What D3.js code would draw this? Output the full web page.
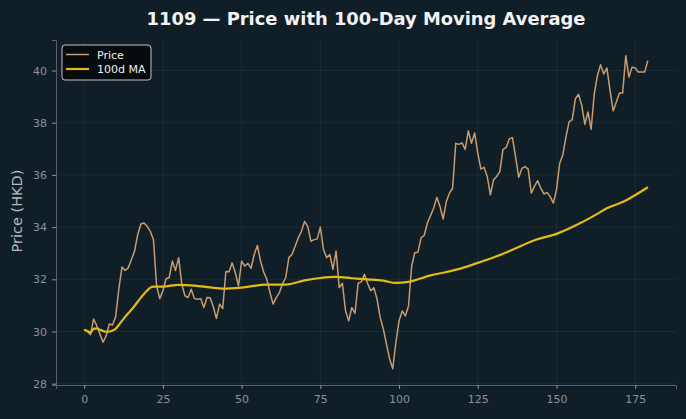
<!DOCTYPE html>
<meta charset="utf-8">
<style>
body { margin: 0; background: #101f27; }
svg { display: block; font-family: "DejaVu Sans", sans-serif; }
.tick text { fill: #8c9196; font-size: 11px; }
.tick line { stroke: #8c9196; }
.domain { stroke: #5a5f63; }
.grid line { stroke: #ffffff; stroke-opacity: 0.05; }
</style>
<body>
<script src="https://cdn.jsdelivr.net/npm/d3@7"></script>
<script>

var title = "1109 \u2014 Price with 100-Day Moving Average";
var yLabel = "Price (HKD)";
var xTicks = [0, 25, 50, 75, 100, 125, 150, 175];
var yTicks = [28, 30, 32, 34, 36, 38, 40];

// daily close, day 0..179
var price = [
  30.07, 30.0, 29.88, 30.48, 30.22, 29.9, 29.59, 29.84, 30.29, 30.25,
  30.57, 31.62, 32.47, 32.34, 32.44, 32.76, 33.08, 33.71, 34.12, 34.16,
  34.03, 33.84, 33.52, 31.75, 31.26, 31.56, 32.02, 32.06, 32.7, 32.34,
  32.83, 31.81, 31.37, 31.3, 31.62, 31.26, 31.24, 31.26, 30.92, 31.3,
  31.29, 30.95, 30.5, 31.05, 30.88, 32.3, 32.29, 32.63, 32.25, 31.75,
  32.7, 32.51, 32.61, 32.42, 32.95, 33.3, 32.7, 32.28, 32.0, 31.49,
  31.05, 31.3, 31.49, 31.83, 32.06, 32.83, 32.95, 33.27, 33.59, 33.84,
  34.22, 34.03, 33.46, 33.52, 33.55, 34.0, 33.14, 32.83, 32.95, 32.38,
  33.08, 31.68, 31.85, 30.79, 30.41, 30.92, 30.69, 31.85, 31.9, 32.19,
  31.85, 31.56, 31.68, 31.24, 30.54, 30.1, 29.52, 28.95, 28.57, 29.59,
  30.41, 30.79, 30.6, 30.98, 32.51, 33.02, 33.04, 33.59, 33.69, 34.16,
  34.44, 34.73, 35.14, 34.79, 34.31, 34.98, 35.3, 35.49, 37.21, 37.17,
  37.23, 36.98, 37.69, 37.21, 37.61, 36.83, 36.22, 36.29, 35.94, 35.24,
  35.81, 35.94, 36.13, 36.98, 37.05, 37.38, 37.43, 36.7, 35.91, 36.25,
  36.32, 36.22, 35.3, 35.56, 35.78, 35.49, 35.27, 35.33, 35.17, 34.92,
  35.43, 36.44, 36.76, 37.46, 38.03, 38.12, 38.92, 39.09, 38.67, 37.94,
  38.41, 37.75, 39.11, 39.81, 40.22, 39.87, 40.1, 39.24, 38.45, 38.79,
  39.14, 39.14, 40.57, 39.75, 40.13, 40.1, 39.94, 39.94, 39.94, 40.38
];

// 100-day moving average, read at these days
var maDays = [0, 1, 2, 3, 4, 5, 6, 7, 8, 9, 10, 11, 12, 13, 14, 15, 16, 17, 18, 19,
  20, 21, 22, 25, 30, 35, 40, 44, 50, 58, 64, 70, 75, 80, 85, 90, 95, 99, 103,
  110, 115, 120, 125, 131, 136, 143, 150, 156, 162, 166, 171, 179];
var maValues = [30.07, 30.02, 29.97, 30.1, 30.12, 30.07, 30.02, 29.99, 30.0, 30.04,
  30.1, 30.25, 30.41, 30.56, 30.7, 30.83, 30.98, 31.14, 31.3, 31.44,
  31.57, 31.68, 31.72, 31.72, 31.79, 31.76, 31.69, 31.64, 31.68, 31.8, 31.8,
  31.96, 32.05, 32.09, 32.04, 32.0, 31.95, 31.86, 31.9, 32.15, 32.28, 32.43,
  32.63, 32.88, 33.13, 33.5, 33.74, 34.06, 34.44, 34.72, 34.96, 35.53];

var width = 686, height = 419;
var margin = {left: 56, right: 10, top: 40, bottom: 34};

var svg = d3.select("body").append("svg")
    .attr("width", width)
    .attr("height", height);

svg.append("rect").attr("width", width).attr("height", height).attr("fill", "#101f27");

var x = d3.scaleLinear()
    .domain([-8.95, 187.95])
    .range([margin.left, width - margin.right]);

var y = d3.scaleLinear()
    .domain([27.95, 41.17])
    .range([height - margin.bottom, margin.top]);

// grid
svg.append("g").attr("class", "grid")
  .selectAll("line").data(xTicks).enter().append("line")
    .attr("x1", function(d) { return x(d); }).attr("x2", function(d) { return x(d); })
    .attr("y1", margin.top).attr("y2", height - margin.bottom);
svg.append("g").attr("class", "grid")
  .selectAll("line").data(yTicks).enter().append("line")
    .attr("y1", function(d) { return y(d); }).attr("y2", function(d) { return y(d); })
    .attr("x1", margin.left).attr("x2", width - margin.right);

// axes
var xAxis = svg.append("g")
    .attr("transform", "translate(0," + (height - margin.bottom) + ")")
    .call(d3.axisBottom(x).tickValues(xTicks).tickSizeOuter(0).tickSize(4).tickPadding(6));
var yAxis = svg.append("g")
    .attr("transform", "translate(" + margin.left + ",0)")
    .call(d3.axisLeft(y).tickValues(yTicks).tickSizeOuter(0).tickSize(4).tickPadding(5));
xAxis.selectAll("text").attr("font-family", "DejaVu Sans").attr("font-size", 11);
yAxis.selectAll("text").attr("font-family", "DejaVu Sans").attr("font-size", 11);

// lines
var priceLine = d3.line()
    .x(function(d, i) { return x(i); })
    .y(function(d) { return y(d); });

svg.append("path")
    .datum(price)
    .attr("fill", "none")
    .attr("stroke", "#c99b70")
    .attr("stroke-width", 1.5)
    .attr("stroke-linejoin", "round")
    .attr("d", priceLine);

var maLine = d3.line()
    .x(function(d, i) { return x(maDays[i]); })
    .y(function(d) { return y(d); })
    .curve(d3.curveMonotoneX);

svg.append("path")
    .datum(maValues)
    .attr("fill", "none")
    .attr("stroke", "#e3bb17")
    .attr("stroke-width", 2.2)
    .attr("stroke-linejoin", "round")
    .attr("d", maLine);

// title and label
svg.append("text")
    .attr("x", (margin.left + width - margin.right) / 2)
    .attr("y", 25)
    .attr("text-anchor", "middle")
    .attr("fill", "#f2f2f2")
    .attr("font-weight", "bold")
    .attr("font-size", 17.9)
    .text(title);

svg.append("text")
    .attr("transform", "translate(22," + 211 + ") rotate(-90)")
    .attr("text-anchor", "middle")
    .attr("fill", "#b4b9bd")
    .attr("font-size", 14.5)
    .text(yLabel);

// legend
var legend = svg.append("g").attr("transform", "translate(62,45)");
legend.append("rect")
    .attr("width", 89).attr("height", 35).attr("rx", 3)
    .attr("fill", "#050b0e").attr("stroke", "#c4c4c4").attr("stroke-width", 1);
var items = [{name: "Price", color: "#c99b70", w: 1.5}, {name: "100d MA", color: "#e3bb17", w: 2.2}];
items.forEach(function(it, i) {
  var ly = 9.5 + i * 14.5;
  legend.append("line").attr("x1", 4).attr("x2", 27).attr("y1", ly).attr("y2", ly)
      .attr("stroke", it.color).attr("stroke-width", it.w);
  legend.append("text").attr("x", 35).attr("y", ly + 4)
      .attr("fill", "#f0f0f0").attr("font-size", 11).text(it.name);
});

</script>
